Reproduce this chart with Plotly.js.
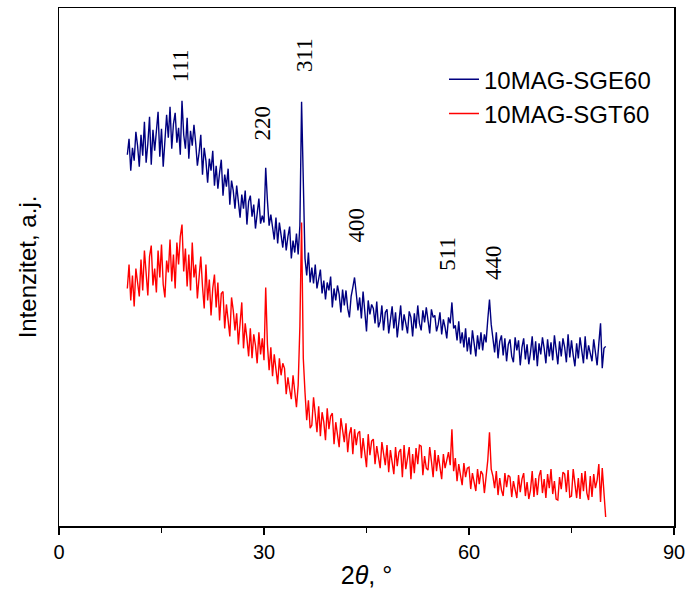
<!DOCTYPE html>
<html>
<head>
<meta charset="utf-8">
<script src="https://cdn.plot.ly/plotly-3.0.1.min.js"></script>
<style>html,body{margin:0;padding:0;background:#fff;}#chart{width:687px;height:589px;}</style>
</head>
<body>
<div id="chart"></div>
<script>
// 2θ grid of the scan (degrees): 10 → 80, step 0.25
const scanStart = 10;
const scanStep = 0.25;

// Intensity, a.u. — 10MAG-SGE60 (4 readings per degree)
const sge60 = [
  372,388,356,379, 366,395,381,360, 392,371,405,364, 383,410,362,397, 376,401,415,370,
  398,360,386,412, 389,420,378,403, 414,384,399,372, 426,392,378,409, 368,396,381,402,
  384,361,374,392, 352,379,366,344, 368,356,376,341, 361,338,354,367, 331,352,340,358,
  322,346,336,318, 341,326,309,332, 318,336,302,325, 331,310,322,298, 316,328,303,311,
  304,359,326,301, 312,296,287,309, 283,304,292,279, 297,276,290,300, 268,286,274,293,
  272,301,425,328, 268,251,274,244, 259,243,262,238, 248,257,233,246, 227,244,236,250,
  219,238,226,241, 232,214,237,221, 236,218,209,230, 239,249,233,216, 229,208,235,213,
  195,226,212,222, 218,203,225,199, 205,221,196,214, 217,193,209,220, 198,214,189,207,
  221,196,212,203, 193,215,209,190, 213,198,221,203, 196,216,204,219, 206,193,217,209,
  211,195,202,214, 192,207,199,188, 209,203,224,198, 201,186,205,183, 194,179,198,175,
  189,172,196,180, 170,191,177,194, 176,192,184,207, 227,202,185,174, 194,168,185,191,
  171,188,165,182, 187,170,164,189, 176,186,161,179, 188,167,182,162, 174,190,166,185,
  160,183,172,189, 178,163,187,170, 184,166,191,174, 162,185,170,188, 179,164,192,169,
  186,171,160,183, 168,189,176,163, 190,167,181,174, 165,187,172,161, 183,203,158,178,
  180
];

// Intensity, a.u. — 10MAG-SGT60
const sgt60 = [
  238,262,226,251, 220,258,244,230, 267,236,276,248, 231,270,281,241, 258,234,276,249,
  282,242,229,266, 254,287,245,272, 238,284,262,290, 302,255,278,240, 272,236,284,249,
  262,228,250,270, 240,218,262,226, 247,211,238,252, 219,244,206,233, 235,198,222,207,
  190,229,216,196, 213,182,208,224, 178,203,188,170, 198,168,192,181, 163,194,172,188,
  166,239,182,156, 179,150,172,157, 142,168,151,163, 158,132,149,137, 127,151,136,119,
  141,200,304,168, 134,106,126,98, 101,129,112,94, 120,90,114,104, 86,118,97,110,
  113,82,104,91, 79,108,96,84, 103,74,92,99, 72,97,81,93, 95,68,88,75,
  59,92,71,85, 87,62,80,69, 58,84,73,61, 81,54,76,63, 52,79,60,74,
  77,49,81,57, 66,79,47,72, 53,78,62,81, 80,51,70,58, 56,79,65,49,
  76,55,71,60, 47,72,58,66, 74,61,97,55, 68,45,62,51, 41,63,49,58,
  59,37,53,44, 35,57,42,55, 52,33,48,66, 94,57,50,38, 55,31,48,36,
  30,53,39,51, 49,29,45,36, 28,51,34,47, 53,30,44,27, 36,55,29,48,
  31,50,56,33, 47,28,52,38, 57,32,45,27, 26,49,37,54, 52,34,56,29,
  30,57,41,28, 48,27,53,35, 55,33,26,50, 29,52,38,46, 62,24,58,33,
  9
];

const seriesNames = ["10MAG-SGE60", "10MAG-SGT60"];

// Miller-index labels of the reflections
const peakLabels = ["111", "220", "311", "400", "511", "440"];
const peakLabelX = [17.9, 29.8, 36.0, 43.6, 56.8, 63.6];
const peakLabelY = [461, 404, 472, 302, 273, 264];

const xTicks = [0, 30, 60, 90];

const twoTheta = sge60.map((_, i) => +(scanStart + i * scanStep).toFixed(2));

const sans = "Liberation Sans";
const serif = "Liberation Serif";

const traces = [
  {x: twoTheta, y: sge60, name: seriesNames[0], type: "scatter", mode: "lines",
   line: {color: "#000080", width: 1.4}},
  {x: twoTheta, y: sgt60, name: seriesNames[1], type: "scatter", mode: "lines",
   line: {color: "#ff0000", width: 1.4}}
];

const annotations = peakLabels.map((t, i) => ({
  x: peakLabelX[i], y: peakLabelY[i], xref: "x", yref: "y",
  text: t, showarrow: false, textangle: -90,
  font: {family: serif, size: 23, color: "#000"}
}));

const layout = {
  width: 687, height: 589,
  margin: {l: 59, r: 13, t: 8, b: 63},
  paper_bgcolor: "#fff", plot_bgcolor: "#fff",
  font: {family: sans, color: "#000"},
  xaxis: {
    range: [0, 90], tickvals: xTicks, ticktext: xTicks.map(String),
    ticks: "outside", ticklen: 7, tickwidth: 1.5, tickcolor: "#000",
    minor: {dtick: 15, tick0: 0, ticks: "outside", ticklen: 5, tickwidth: 1.5, tickcolor: "#000"},
    showline: true, linecolor: "#000", linewidth: 1.5, mirror: true,
    showgrid: false, zeroline: false,
    tickfont: {family: sans, size: 20, color: "#000"},
    title: {text: "2<i>θ</i>, °", font: {family: sans, size: 25, color: "#000"}, standoff: 7}
  },
  yaxis: {
    range: [0, 519], showticklabels: false, ticks: "",
    showline: true, linecolor: "#000", linewidth: 1.5, mirror: true,
    showgrid: false, zeroline: false,
    title: {text: "Intenzitet, a.j.", font: {family: sans, size: 24, color: "#000"}, standoff: 14}
  },
  legend: {
    x: 0.626, y: 0.905, xanchor: "left", yanchor: "top",
    bgcolor: "rgba(0,0,0,0)", borderwidth: 0,
    font: {family: sans, size: 24, color: "#000"},
    tracegroupgap: 0
  },
  showlegend: true,
  annotations: annotations
};

Plotly.newPlot("chart", traces, layout, {displayModeBar: false, staticPlot: true});
</script>
</body>
</html>
